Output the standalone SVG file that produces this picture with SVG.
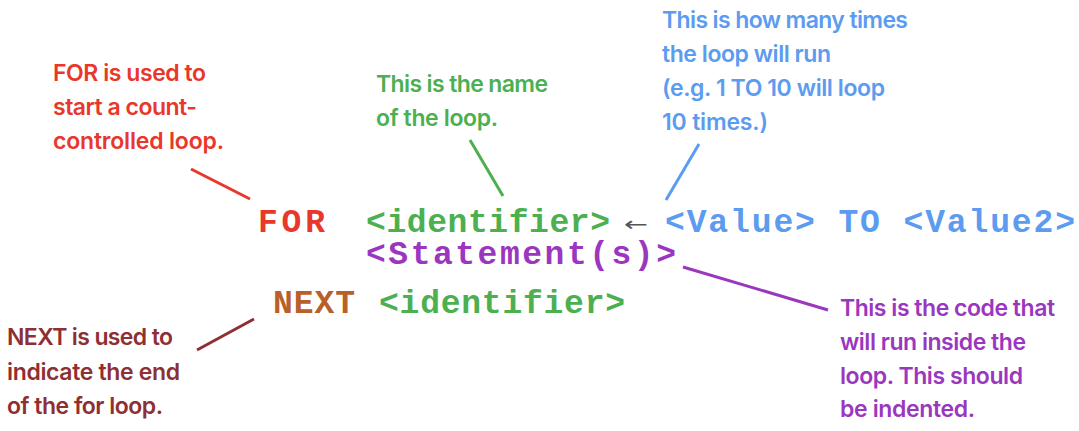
<svg xmlns="http://www.w3.org/2000/svg" width="1079" height="431" viewBox="0 0 1079 431">
<style>
.note{font-family:Inter,"Noto Sans","Liberation Sans",sans-serif;font-size:23px;font-weight:600;letter-spacing:-1px}
.code{font-family:"Liberation Mono","Courier New",monospace;font-size:33px;font-weight:bold}
.red{fill:#e8372b}.green{fill:#4caf50}.blue{fill:#5b9cf0}.purple{fill:#9b37bf}.brown{fill:#8e2f33}.orange{fill:#b85f2a}
.ln{stroke-width:3;fill:none;stroke-linecap:butt}
</style>
<rect width="1079" height="431" fill="#ffffff"/>
<g id="connectors">
<line class="ln" x1="191" y1="169" x2="250" y2="199" stroke="#e8372b"/>
<line class="ln" x1="470" y1="140" x2="503" y2="196" stroke="#4caf50"/>
<line class="ln" x1="699" y1="144" x2="666" y2="200" stroke="#5b9cf0"/>
<line class="ln" x1="683" y1="267" x2="828" y2="310" stroke="#9b37bf"/>
<line class="ln" x1="197" y1="350" x2="254" y2="319" stroke="#8e2f33"/>
</g>
<g id="note-for">
<text class="note red" x="53" y="81" textLength="152" lengthAdjust="spacing">FOR is used to</text>
<text class="note red" x="53" y="115" textLength="143" lengthAdjust="spacing">start a count-</text>
<text class="note red" x="53" y="149" textLength="170" lengthAdjust="spacing">controlled loop.</text>
</g>
<g id="note-name">
<text class="note green" x="376" y="92" textLength="171" lengthAdjust="spacing">This is the name</text>
<text class="note green" x="376" y="126" textLength="121" lengthAdjust="spacing">of the loop.</text>
</g>
<g id="note-value">
<text class="note blue" x="662" y="28" textLength="245" lengthAdjust="spacing">This is how many times</text>
<text class="note blue" x="662" y="62" textLength="168" lengthAdjust="spacing">the loop will run</text>
<text class="note blue" x="662" y="96" textLength="222" lengthAdjust="spacing">(e.g. 1 TO 10 will loop</text>
<text class="note blue" x="662" y="130" textLength="105" lengthAdjust="spacing">10 times.)</text>
</g>
<g id="note-statement">
<text class="note purple" x="840" y="316" textLength="214" lengthAdjust="spacing">This is the code that</text>
<text class="note purple" x="840" y="350" textLength="185" lengthAdjust="spacing">will run inside the</text>
<text class="note purple" x="840" y="384" textLength="182" lengthAdjust="spacing">loop. This should</text>
<text class="note purple" x="840" y="417" textLength="134" lengthAdjust="spacing">be indented.</text>
</g>
<g id="note-next">
<text class="note brown" x="7" y="345" textLength="165" lengthAdjust="spacing">NEXT is used to</text>
<text class="note brown" x="7" y="380" textLength="172" lengthAdjust="spacing">indicate the end</text>
<text class="note brown" x="7" y="414" textLength="155" lengthAdjust="spacing">of the for loop.</text>
</g>
<g id="code-for">
<text class="code red" x="258" y="232" textLength="67" lengthAdjust="spacing">FOR</text>
<text class="code green" x="366" y="232" textLength="244" lengthAdjust="spacing">&lt;identifier&gt;</text>
<text x="624" y="231" font-family="DejaVu Sans,sans-serif" font-size="20" fill="#555555" textLength="24" lengthAdjust="spacingAndGlyphs">←</text>
<text class="code blue" x="665" y="232" textLength="410" lengthAdjust="spacing">&lt;Value&gt; TO &lt;Value2&gt;</text>
</g>
<g id="code-statement">
<text class="code purple" x="366" y="264" textLength="310" lengthAdjust="spacing">&lt;Statement(s)&gt;</text>
</g>
<g id="code-next">
<text class="code orange" x="273" y="313" textLength="82" lengthAdjust="spacing">NEXT</text>
<text class="code green" x="379" y="313" textLength="246" lengthAdjust="spacing">&lt;identifier&gt;</text>
</g>
</svg>
